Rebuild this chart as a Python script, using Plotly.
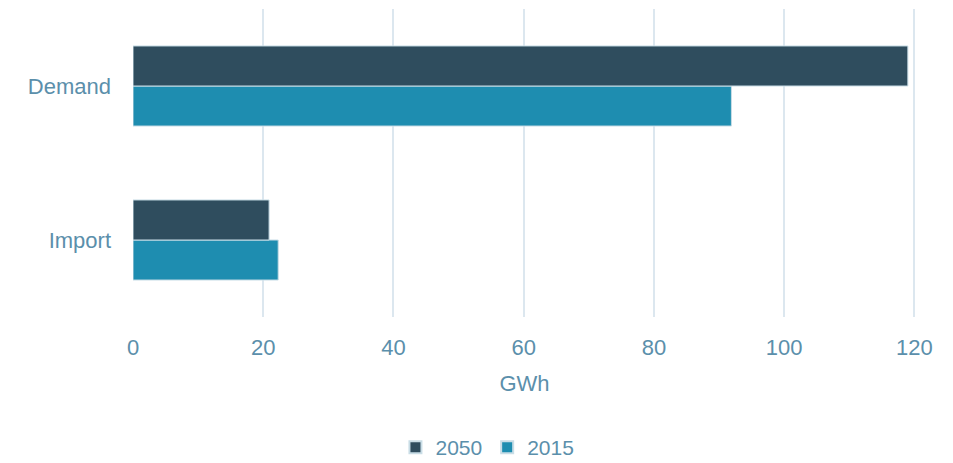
import plotly.graph_objects as go

categories = ["Import", "Demand"]
values_2015 = [22.3, 91.9]
values_2050 = [20.9, 119.0]
x_ticks = [0, 20, 40, 60, 80, 100, 120]

text_color = "#5b8fab"
font_family = "Liberation Sans, Arial, sans-serif"

fig = go.Figure()
fig.add_trace(go.Bar(
    y=categories, x=values_2015, name="2015", orientation="h",
    marker=dict(color="#1e8db0", line=dict(color="#c9dde6", width=1)),
))
fig.add_trace(go.Bar(
    y=categories, x=values_2050, name="2050", orientation="h",
    marker=dict(color="#2f4d5e", line=dict(color="#c9dde6", width=1)),
))

fig.update_layout(
    width=945, height=455,
    margin=dict(l=125, r=37, t=1, b=146),
    paper_bgcolor="white", plot_bgcolor="white",
    barmode="group", bargap=0.48, bargroupgap=0,
    font=dict(family=font_family, size=22, color=text_color),
    showlegend=True,
    legend=dict(
        orientation="h", traceorder="reversed",
        xref="container", yref="container",
        x=0.41, xanchor="left", y=0.034, yanchor="middle",
        font=dict(size=21, color=text_color),
        itemwidth=30, itemsizing="constant",
    ),
    xaxis=dict(
        range=[0, 120.25], tickvals=x_ticks, ticktext=[str(v) for v in x_ticks],
        showgrid=True, gridcolor="#dce7ef", gridwidth=2,
        zeroline=False, showline=False, automargin=False,
        ticks="", ticklabelstandoff=15,
        title=dict(text="GWh", standoff=16, font=dict(size=22, color=text_color)),
    ),
    yaxis=dict(
        showgrid=False, zeroline=False, showline=False, automargin=False,
        ticks="", ticklabelstandoff=21,
    ),
)

fig.write_html("out.html")
